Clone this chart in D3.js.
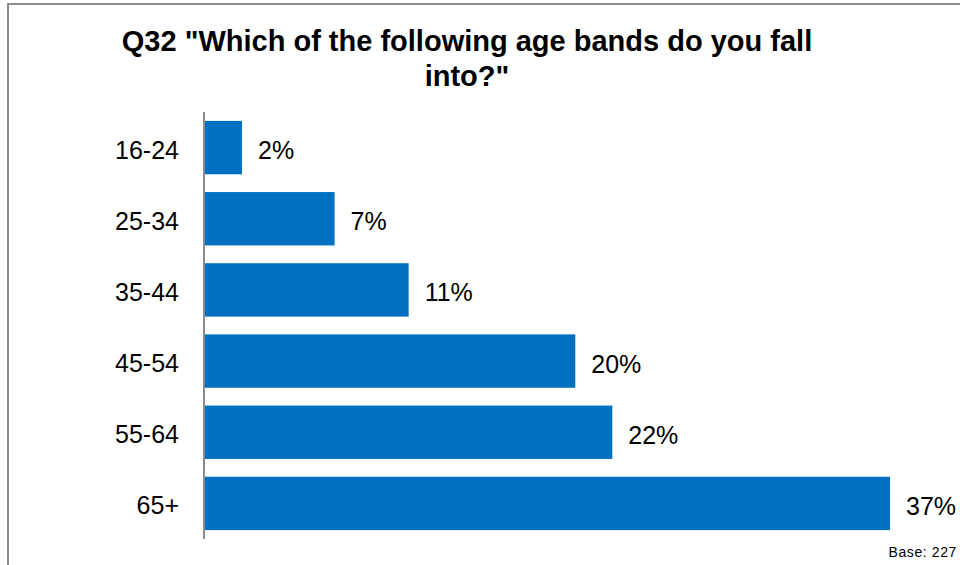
<!DOCTYPE html>
<html>
<head>
<meta charset="utf-8">
<script src="https://cdn.jsdelivr.net/npm/d3@7"></script>
<style>
  html, body { margin: 0; padding: 0; background: #fff; }
  svg { display: block; font-family: "Liberation Sans", Arial, sans-serif; }
</style>
</head>
<body>
<svg id="chart" width="960" height="565"></svg>
<script>
const categories = ["16-24", "25-34", "35-44", "45-54", "55-64", "65+"];
const values = [2, 7, 11, 20, 22, 37];
const titleLines = ["Q32 \"Which of the following age bands do you fall", "into?\""];
const baseNote = "Base: 227";

const svg = d3.select("#chart");
const W = 960, H = 565;

// outer frame
svg.append("rect")
  .attr("x", 8).attr("y", 4)
  .attr("width", W + 10).attr("height", H + 10)
  .attr("fill", "#fff")
  .attr("stroke", "#8c8c8c").attr("stroke-width", 2);

// title
const title = svg.append("text")
  .attr("text-anchor", "middle")
  .attr("font-weight", "bold")
  .attr("font-size", 29)
  .attr("fill", "#000");
titleLines.forEach((t, i) => {
  title.append("tspan").attr("x", 467).attr("y", 51 + i * 35).text(t);
});

const x = d3.scaleLinear().domain([0, 37]).range([205, 890]);
const y = d3.scaleBand().domain(categories).range([112, 539])
  .paddingInner(0.25).paddingOuter(0.125);

// bars
svg.append("g").selectAll("rect")
  .data(values)
  .join("rect")
  .attr("x", x(0))
  .attr("y", (d, i) => y(categories[i]))
  .attr("width", d => x(d) - x(0))
  .attr("height", y.bandwidth())
  .attr("fill", "#0070C0");

// value labels
svg.append("g").selectAll("text")
  .data(values)
  .join("text")
  .attr("x", d => x(d) + 16)
  .attr("y", (d, i) => y(categories[i]) + y.bandwidth() / 2)
  .attr("dy", "0.46em")
  .attr("font-size", 25)
  .attr("fill", "#000")
  .text(d => d + "%");

// category axis
const axis = d3.axisLeft(y).tickSize(0).tickPadding(25);
const gAxis = svg.append("g").attr("transform", "translate(204,0)").call(axis);
gAxis.select(".domain").attr("stroke", "#8c8c8c").attr("stroke-width", 2)
  .attr("d", "M0,112V539");
gAxis.selectAll("text")
  .attr("font-size", 25)
  .attr("dy", "0.44em")
  .attr("font-family", "\"Liberation Sans\", Arial, sans-serif")
  .attr("fill", "#000");

// base note
svg.append("text")
  .attr("x", 957).attr("y", 557)
  .attr("text-anchor", "end")
  .attr("font-size", 14)
  .attr("letter-spacing", 0.6)
  .attr("fill", "#000")
  .text(baseNote);
</script>
</body>
</html>
